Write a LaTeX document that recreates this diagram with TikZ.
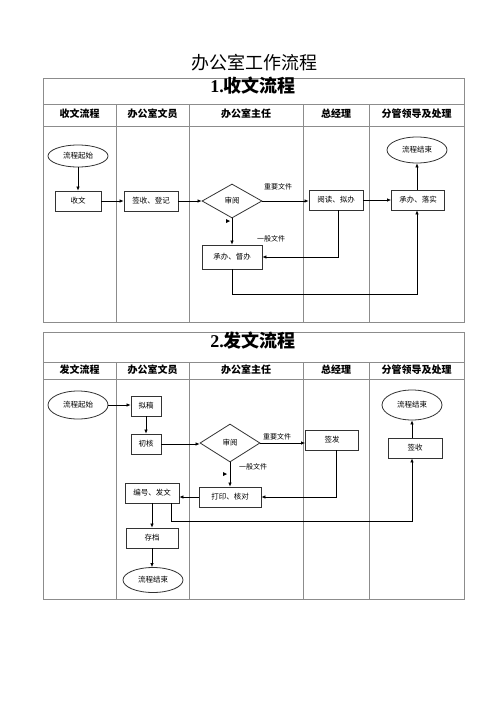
\documentclass[tikz,border=0pt]{standalone}
\usepackage{fontspec}
\setmainfont{Liberation Serif}
\newfontfamily\cjk{Noto Sans CJK SC}
\usetikzlibrary{shapes.geometric,arrows.meta}
\begin{document}
\begin{tikzpicture}[x=1pt,y=-1pt,
  grid/.style={draw=black!45,line width=0.7pt},
  flow/.style={draw=black,line width=0.7pt,-{Latex[length=4pt,width=3.5pt]}},
  boxtxt/.style={font=\cjk\fontsize{7.5}{8}\selectfont},
  box/.style={draw=black!80,line width=0.8pt,rectangle,inner sep=0pt,minimum height=20pt,boxtxt},
  term/.style={draw=black!80,line width=0.8pt,ellipse,inner sep=0pt,minimum width=60pt,minimum height=22pt,boxtxt},
  decide/.style={draw=black!80,line width=0.8pt,diamond,inner sep=0pt,minimum width=60pt,minimum height=34pt,boxtxt},
  lbl/.style={font=\cjk\fontsize{7}{8}\selectfont,inner sep=0pt},
  head/.style={font=\cjk\bfseries\fontsize{10}{12}\selectfont,inner sep=0pt},
  sect/.style={font=\bfseries\fontsize{18}{20}\selectfont,inner sep=0pt}]
\useasboundingbox[fill=white] (0,0) rectangle (500,707);

% ---------- titles ----------
\node[font=\cjk\fontsize{18}{20}\selectfont,inner sep=0pt] (title) at (254,63) {办公室工作流程};

% ---------- table 1 ----------
\draw[grid] (43,78) rectangle (464,322);
\draw[grid] (43,104) -- (464,104);
\draw[grid] (43,126) -- (464,126);
\foreach \x in {116,189,303,369} \draw[grid] (\x,104) -- (\x,322);
\node[sect] (t1) at (253,86) {1.{\cjk 收文流程}};
\node[head] (h11) at (79.5,114) {收文流程};
\node[head] (h12) at (152.5,114) {办公室文员};
\node[head] (h13) at (246,114) {办公室主任};
\node[head] (h14) at (336,114) {总经理};
\node[head] (h15) at (416.5,114) {分管领导及处理};

% ---------- table 2 ----------
\draw[grid] (43,332) rectangle (464,599);
\draw[grid] (43,362) -- (464,362);
\draw[grid] (43,379) -- (464,379);
\foreach \x in {116,189,303,369} \draw[grid] (\x,362) -- (\x,599);
\node[sect] (t2) at (253,341) {2.{\cjk 发文流程}};
\node[head] (h21) at (79.5,370) {发文流程};
\node[head] (h22) at (152.5,370) {办公室文员};
\node[head] (h23) at (246,370) {办公室主任};
\node[head] (h24) at (336,370) {总经理};
\node[head] (h25) at (416.5,370) {分管领导及处理};

% ---------- flow 1 ----------
\node[term] (s1start) at (78,156) {流程起始};
\node[box,minimum width=46pt] (s1recv) at (78,201) {收文};
\node[box,minimum width=54pt] (s1sign) at (151,201) {签收、登记};
\node[decide] (s1rev) at (232,201) {审阅};
\node[box,minimum width=54pt] (s1read) at (336,200) {阅读、拟办};
\node[box,minimum width=53pt] (s1impl) at (418,200) {承办、落实};
\node[term,minimum height=26pt] (s1end) at (417,150) {流程结束};
\node[box,minimum width=60pt,minimum height=24pt] (s1do) at (232,257) {承办、督办};
\node[lbl] (l1) at (278,187) {重要文件};
\node[lbl] (l2) at (271,239) {一般文件};
\coordinate (b1) at (0,294);

\draw[flow] (s1start) -- (s1recv);
\draw[flow] (s1recv) -- (s1sign);
\draw[flow] (s1sign) -- (s1rev);
\draw[flow] (s1rev.east) -- (s1rev.east -| s1read.west);
\draw[flow] (s1rev) -- (s1do);
\draw[flow] ([xshift=2pt]s1read.south) |- (s1do.east);
\draw[flow] (s1read) -- (s1impl);
\draw[flow] (s1impl.north -| s1end.south) -- (s1end.south);
\draw[flow] (s1do.south) -- (s1do.south |- b1) -- (s1end.south |- b1) -- (s1end.south |- s1impl.south);
\fill (226,219) -- (230,221) -- (226,223) -- cycle;

% ---------- flow 2 ----------
\node[term,minimum height=28pt] (s2start) at (78,405) {流程起始};
\node[box,minimum width=30pt] (s2draft) at (146,406) {拟稿};
\node[box,minimum width=30pt] (s2check) at (146,444) {初核};
\node[decide,minimum height=38pt] (s2rev) at (230,443) {审阅};
\node[box,minimum width=53pt] (s2issue) at (332,440) {签发};
\node[box,minimum width=62pt] (s2print) at (230,497) {打印、核对};
\node[box,minimum width=54pt] (s2num) at (152,493) {编号、发文};
\node[box,minimum width=52pt] (s2arch) at (152,538) {存档};
\node[term,minimum height=25pt] (s2end) at (153,580) {流程结束};
\node[box,minimum width=54pt] (s2recv) at (415,448) {签收};
\node[term,minimum height=30pt] (s2fin) at (412,405) {流程结束};
\node[lbl] (l3) at (277,437) {重要文件};
\node[lbl] (l4) at (253,467) {一般文件};
\coordinate (b2) at (412,521);

\draw[flow] (s2start.east) -- (s2start.east -| s2draft.west);
\draw[flow] (s2draft) -- (s2check);
\draw[flow] (s2check.east) -- (s2check.east -| s2rev.west);
\draw[flow] (s2rev.east) -- (s2rev.east -| s2issue.west);
\draw[flow] (s2rev) -- (s2print);
\draw[flow] ([xshift=4pt]s2issue.south) |- (s2print.east);
\draw[flow] (s2print.west) -- (s2print.west -| s2num.east);
\draw[flow] (s2num) -- (s2arch);
\draw[flow] (s2arch.south) -- (s2arch.south |- s2end.north);
\draw[flow] (s2fin.south |- s2recv.north) -- (s2fin.south);
\draw[flow] ([xshift=-8pt]s2num.south east) |- (b2) -- (b2 |- s2recv.south);
\fill (223,472) -- (227,474) -- (223,476) -- cycle;
\end{tikzpicture}
\end{document}
